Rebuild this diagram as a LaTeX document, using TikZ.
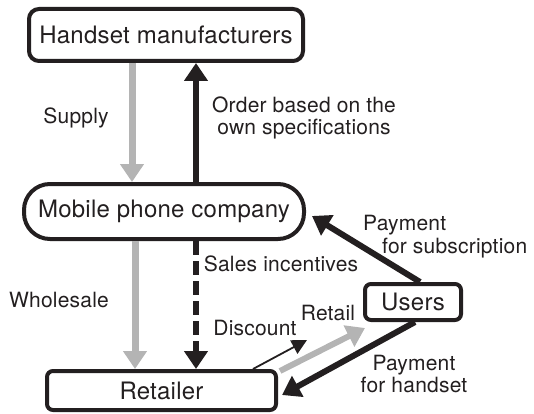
\documentclass[tikz,border=0pt]{standalone}
\usepackage{fontspec}
\setmainfont{TeX Gyre Heros}[LetterSpace=1]
\usetikzlibrary{arrows.meta}
\definecolor{ink}{HTML}{231F20}
\definecolor{lgray}{HTML}{B4B4B4}
\tikzset{
  box/.style={draw=ink, line width=4pt, text=ink, font=\fontsize{24}{26}\selectfont, inner sep=0pt},
  lbl/.style={text=ink, font=\fontsize{21}{22.5}\selectfont, inner sep=0pt, align=center},
  grayarrow/.style={draw=lgray, line width=7pt, -{Triangle[length=18pt,width=23pt]}},
  blackarrow/.style={draw=ink, line width=6pt, -{Triangle[length=18pt,width=23pt]}},
  thinarrow/.style={draw=ink, line width=1.8pt, -{Triangle[length=15pt,width=15pt]}},
}
\begin{document}
\begin{tikzpicture}[x=1pt,y=1pt]
\useasboundingbox (0,0) rectangle (534,413);
\node[box, rounded corners=10pt, minimum width=274pt, minimum height=52pt] (hm) at (166,378) {Handset manufacturers};
\node[box, rounded corners=26pt, minimum width=280pt, minimum height=55pt] (mpc) at (164,201.5) {Mobile phone company};
\node[box, rounded corners=6pt, minimum width=229pt, minimum height=39pt] (ret) at (161.5,22.5) {Retailer};
\node[box, rounded corners=6pt, minimum width=96pt, minimum height=36pt] (users) at (413,111) {Users};
\coordinate (dtip) at (307,73);

\draw[grayarrow] ([xshift=-34pt]hm.south) -- ([xshift=-32pt]mpc.north);
\draw[blackarrow] ([xshift=32pt]mpc.north) -- ([xshift=30pt]hm.south);
\draw[grayarrow] ([xshift=-29pt]mpc.south) -- ([xshift=-26.5pt]ret.north);
\draw[blackarrow, dash pattern=on 14pt off 6pt] ([xshift=32pt]mpc.south) -- ([xshift=34.5pt]ret.north);
\draw[blackarrow] ([xshift=7pt]users.north) -- ([xshift=6pt,yshift=-4.5pt]mpc.east);
\draw[blackarrow] ([xshift=2pt]users.south) -- ([xshift=4pt,yshift=-4.5pt]ret.east);
\draw[grayarrow, line width=6pt] ([xshift=2pt,yshift=-2pt]ret.north east) -- ([xshift=2pt,yshift=-6pt]users.south west);
\draw[thinarrow] ([xshift=91.5pt]ret.north) -- (dtip);

\node[lbl] (supply) at (76,295) {Supply};
\node[lbl] (order) at (304,295) {Order based on the\\own specifications};
\node[lbl] (sales) at (281,149) {Sales incentives};
\node[lbl] (whole) at (59,113) {Wholesale};
\node[lbl] (disc) at (255,85) {Discount};
\node[lbl] (retail) at (328,100) {Retail};
\node[lbl, anchor=west, align=left] (psub) at (363,176.5) {Payment\\\hspace{19pt}for subscription};
\node[lbl] (phand) at (414,39) {Payment\\for handset};
\end{tikzpicture}
\end{document}
